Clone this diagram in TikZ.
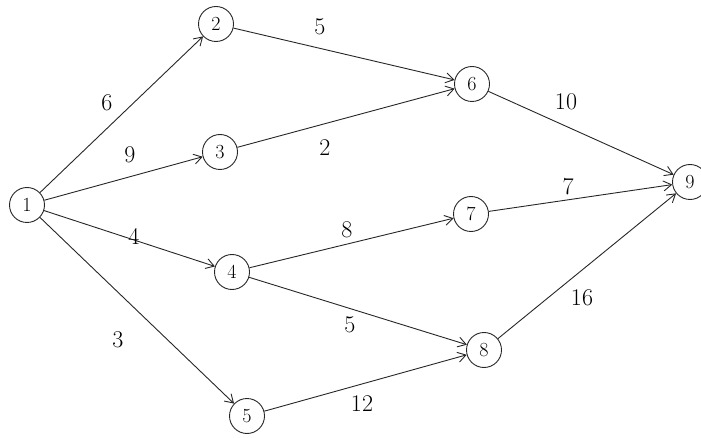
\documentclass[tikz,border=0pt]{standalone}
\usetikzlibrary{arrows.meta}
\begin{document}
\begin{tikzpicture}[x=1pt,y=-1pt,
  vtx/.style={circle,draw=black!85,line width=0.9pt,minimum size=35pt,inner sep=0pt,font=\fontsize{20}{20}\selectfont},
  edge/.style={draw=black!85,line width=0.9pt,-{Straight Barb[length=8pt,width=10pt]}},
  wt/.style={font=\fontsize{24}{24}\selectfont}]
\useasboundingbox (0,0) rectangle (701,438);
\clip (0,0) rectangle (701,438);
\node[vtx] (n1) at (27,205) {1};
\node[vtx] (n2) at (216,24) {2};
\node[vtx] (n3) at (220,152) {3};
\node[vtx] (n4) at (232,272) {4};
\node[vtx] (n5) at (247,416) {5};
\node[vtx] (n6) at (472,84) {6};
\node[vtx] (n7) at (471,214) {7};
\node[vtx] (n8) at (484,350) {8};
\node[vtx] (n9) at (690,182) {9};
\draw[edge] (n1) -- (n2);
\draw[edge] (n1) -- (n3);
\draw[edge] (n1) -- (n4);
\draw[edge] (n1) -- (n5);
\draw[edge] (n2) -- (n6);
\draw[edge] (n3) -- (n6);
\draw[edge] (n4) -- (n7);
\draw[edge] (n4) -- (n8);
\draw[edge] (n5) -- (n8);
\draw[edge] (n6) -- (n9);
\draw[edge] (n7) -- (n9);
\draw[edge] (n8) -- (n9);
\node[wt] (w12) at (107,103) {6};
\node[wt] (w13) at (130,155) {9};
\node[wt] (w14) at (134,236) {4};
\node[wt] (w15) at (118,340) {3};
\node[wt] (w26) at (320,27) {5};
\node[wt] (w36) at (325,148) {2};
\node[wt] (w47) at (347,230) {8};
\node[wt] (w48) at (350,325) {5};
\node[wt] (w58) at (362,404) {12};
\node[wt] (w69) at (566,102) {10};
\node[wt] (w79) at (568,187) {7};
\node[wt] (w89) at (582,298) {16};
\end{tikzpicture}
\end{document}
